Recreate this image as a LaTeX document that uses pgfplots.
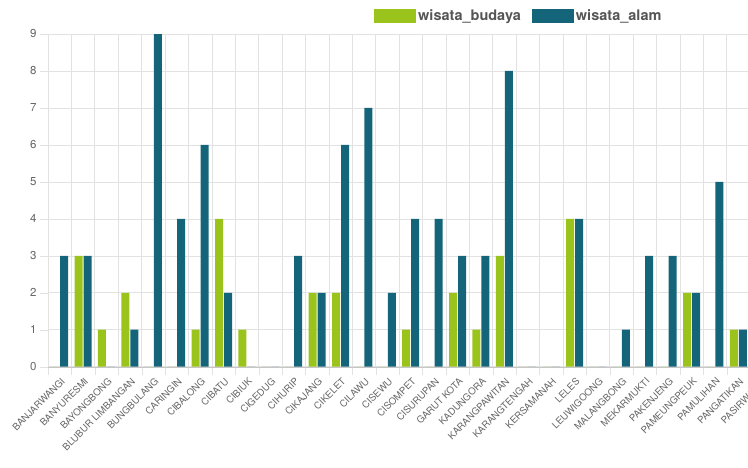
\documentclass[border=0pt]{standalone}
\usepackage{fontspec}
\setmainfont{TeX Gyre Heros}
\usepackage{pgfplots}
\pgfplotsset{compat=1.18}
\usepackage{pgfplotstable}

\definecolor{budaya}{HTML}{9AC31C}
\definecolor{alam}{HTML}{14657A}
\definecolor{gridc}{HTML}{E2E2E2}
\definecolor{labc}{HTML}{666666}
\definecolor{legc}{HTML}{555555}

% x = category index, b = wisata_budaya, a = wisata_alam
\pgfplotstableread{
x b a
0 0 3
1 3 3
2 1 0
3 2 1
4 0 9
5 0 4
6 1 6
7 4 2
8 1 0
9 0 0
10 0 3
11 2 2
12 2 6
13 0 7
14 0 2
15 1 4
16 0 4
17 2 3
18 1 3
19 3 8
20 0 0
21 0 0
22 4 4
23 0 0
24 0 1
25 0 3
26 0 3
27 2 2
28 0 5
29 1 1
30 0 0
}\datatable

\begin{document}
\begin{tikzpicture}
\path[use as bounding box] (-48bp,-101.3bp) rectangle (700bp,366.7bp);
\clip (-48bp,-101.3bp) rectangle (700bp,366.7bp);
\begin{axis}[
  scale only axis,
  width=725.4bp, height=332.7bp,
  xmin=-0.5, xmax=30.5,
  ymin=0, ymax=9,
  ybar=1bp, bar width=8bp,
  axis x line*=bottom,
  axis y line*=left,
  x axis line style={draw=gray!45},
  y axis line style={draw=gridc},
  tick align=outside,
  xtick={0,...,30},
  xticklabels={BANJARWANGI,BANYURESMI,BAYONGBONG,BLUBUR LIMBANGAN,BUNGBULANG,CARINGIN,CIBALONG,CIBATU,CIBIUK,CIGEDUG,CIHURIP,CIKAJANG,CIKELET,CILAWU,CISEWU,CISOMPET,CISURUPAN,GARUT KOTA,KADUNGORA,KARANGPAWITAN,KARANGTENGAH,KERSAMANAH,LELES,LEUWIGOONG,MALANGBONG,MEKARMUKTI,PAKENJENG,PAMEUNGPEUK,PAMULIHAN,PANGATIKAN,PASIRWANGI},
  minor xtick={-0.5,0.5,...,30.5},
  xtick style={draw=none},
  minor x tick style={draw=gridc},
  minor tick length=8bp,
  xminorgrids=true,
  ytick={0,...,9},
  ymajorgrids=true,
  ytick style={draw=gridc},
  major tick length=8bp,
  grid style={gridc, line width=0.6bp},
  minor grid style={gridc, line width=0.6bp},
  x tick label style={rotate=45, anchor=north east, font=\fontsize{9.6bp}{11bp}\selectfont, text=labc, inner sep=1bp, yshift=-1bp},
  y tick label style={font=\fontsize{11.5bp}{13bp}\selectfont, text=labc},
  /pgf/number format/assume math mode=true,
  legend style={at={(rel axis cs:0.4494,1.054)}, anchor=west, draw=none, fill=none,
    legend columns=2, inner sep=0pt,
    font=\bfseries\fontsize{14.5bp}{16bp}\selectfont, text=legc,
    /tikz/every even column/.append style={column sep=9bp}},
  legend image code/.code={\fill[#1] (0bp,-7bp) rectangle (42bp,7bp);},
]
\addplot[fill=budaya, draw=none] table[x=x, y=b]{\datatable};
\addplot[fill=alam, draw=none] table[x=x, y=a]{\datatable};
\legend{wisata\_budaya, wisata\_alam}
\end{axis}
\end{tikzpicture}
\end{document}
